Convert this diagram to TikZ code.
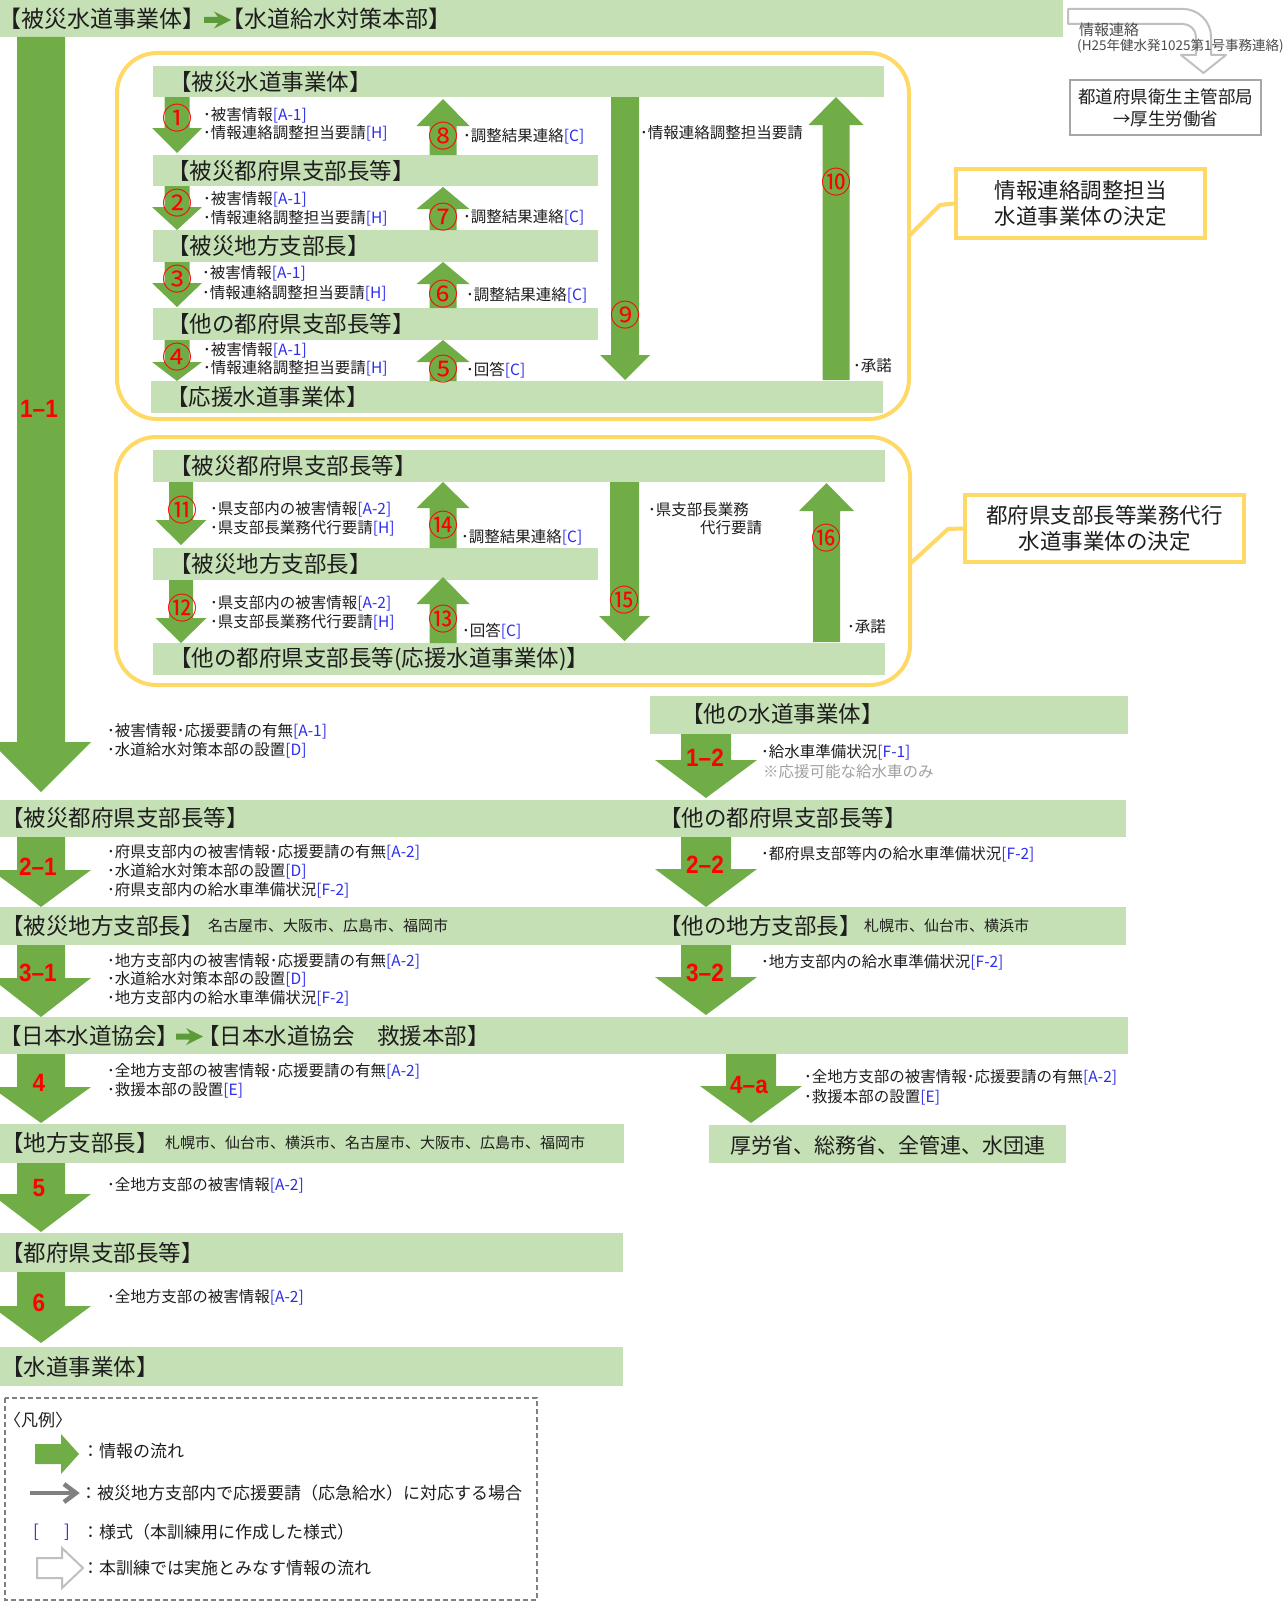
\documentclass[tikz,border=0pt]{standalone}
\usepackage{fontspec}
\usepackage{graphicx}
\setmainfont{Noto Sans CJK JP}
\newfontfamily\libsans{Liberation Sans}
\definecolor{lgreen}{RGB}{197,224,180}
\definecolor{agreen}{RGB}{112,173,71}
\definecolor{hgreen}{RGB}{92,156,56}
\definecolor{ylw}{RGB}{255,217,102}
\definecolor{fblue}{RGB}{45,45,235}
\definecolor{txt}{RGB}{30,30,30}
\definecolor{ltgray}{RGB}{166,166,166}
\definecolor{hollow}{RGB}{191,191,191}
\definecolor{midgray}{RGB}{128,128,128}
\definecolor{notegray}{RGB}{160,160,160}
\newcommand\fs[1]{\fontsize{#1}{#1}\selectfont}
\newcommand\bl[1]{\textcolor{fblue}{#1}}
\newcommand\redlbl[1]{\scalebox{0.9}[1]{#1}}
\newcommand\blkarrow[6]{\fill[agreen] ({#1-#5},#2) -- ({#1+#5},#2) -- ({#1+#5},#3) -- ({#1+#6},#3) -- (#1,#4) -- ({#1-#6},#3) -- ({#1-#5},#3) -- cycle;}
\newcommand\hdarr[2]{\fill[hgreen] (#1,{#2-3}) -- ({#1+14},{#2-3}) -- ({#1+10},{#2-8.5}) -- ({#1+27},#2) -- ({#1+10},{#2+8.5}) -- ({#1+14},{#2+3}) -- (#1,{#2+3}) -- cycle;}
\tikzset{
  gbar/.style={fill=lgreen},
  ttl/.style={anchor=west, inner sep=0pt, text=txt, font=\fs{22.5}},
  lbl/.style={anchor=west, inner sep=0pt, text=txt, font=\fs{15.5}},
  city/.style={anchor=west, inner sep=0pt, text=txt, font=\fs{15}},
  leg/.style={anchor=west, inner sep=0pt, text=txt, font=\fs{17}},
  cnum/.style={inner sep=0pt, text=red, font=\fs{30}},
  bnum/.style={inner sep=0pt, text=red, font=\libsans\bfseries\fs{25}},
  ybox/.style={draw=ylw, line width=4pt, rounded corners=40pt},
  callout/.style={draw=ylw, line width=4pt, fill=white, align=center, text=txt, inner sep=0pt, font=\fontsize{21.5}{26.5}\selectfont},
  yline/.style={draw=ylw, line width=4pt, line join=round},
}
\begin{document}
\begin{tikzpicture}[x=1pt,y=-1pt]
\useasboundingbox (0,0) rectangle (1287,1603);

% ---------- header ----------
\fill[gbar] (0,0) rectangle (1063,37);
\node[ttl, font=\fs{23}] (hdr1) at (-2,18.5) {【被災水道事業体】};
\hdarr{204}{20}
\node[ttl, font=\fs{23}] (hdr2) at (221.5,18.5) {【水道給水対策本部】};

% top right hollow arrow and box
\draw[draw=hollow, line width=2pt, fill=white, line join=round]
  (1068,9) -- (1183,9) .. controls (1198.5,9) and (1211,21.5) .. (1211,37) -- (1211,55)
  -- (1226,55) -- (1203.5,73) -- (1181,55) -- (1196,55) -- (1196,37)
  .. controls (1196,29.8) and (1190.2,24) .. (1183,24) -- (1068,24) -- cycle;
\node[anchor=west, inner sep=0pt, text=txt!80, font=\fs{15}] (jr) at (1079,30) {情報連絡};
\node[anchor=west, inner sep=0pt, text=txt!80, font=\fs{13.5}] (jr2) at (1077,46) {(H25年健水発1025第1号事務連絡)};
\node[draw=ltgray, line width=2pt, minimum width=191pt, minimum height=55pt, inner sep=0pt, align=center, text=txt, font=\fontsize{17.5}{22}\selectfont] (mhlw) at (1165.5,107.5) {都道府県衛生主管部局\\→厚生労働省};

% ---------- left main arrow 1-1 ----------
\blkarrow{41}{37}{742}{792}{24}{50}
\node[bnum] (l11) at (39,409) {\redlbl{1–1}};

% ---------- box 1 ----------
\draw[ybox] (117,53) rectangle (909,419);
\fill[gbar] (153,66) rectangle (884,97);
\fill[gbar] (153,155) rectangle (598,186);
\fill[gbar] (153,230) rectangle (598,262);
\fill[gbar] (153,308) rectangle (598,340);
\fill[gbar] (151,381) rectangle (883,413);
\node[ttl] (b1a) at (169,81.5) {【被災水道事業体】};
\node[ttl] (b1b) at (167,170.5) {【被災都府県支部長等】};
\node[ttl] (b1c) at (167,246) {【被災地方支部長】};
\node[ttl] (b1d) at (167,324) {【他の都府県支部長等】};
\node[ttl] (b1e) at (166,397) {【応援水道事業体】};

\blkarrow{177}{97}{128}{153}{12.5}{25}
\blkarrow{177}{186}{207}{230}{12.5}{25}
\blkarrow{177}{262}{283}{307}{12.5}{25}
\blkarrow{177}{340}{362}{381}{12.5}{25}
\blkarrow{443}{155}{126}{99}{13.5}{26.5}
\blkarrow{443}{230}{209}{187}{13.5}{26.5}
\blkarrow{443}{308}{284}{262}{13.5}{26.5}
\blkarrow{443}{381}{362}{340}{13.5}{26.5}
\blkarrow{625}{97}{355}{380}{14}{25}
\blkarrow{836}{380}{125}{97}{13.5}{27.5}

\node[cnum] (c1) at (177,118) {①};
\node[cnum] (c2) at (177,203) {②};
\node[cnum] (c3) at (177,279) {③};
\node[cnum] (c4) at (177,357) {④};
\node[cnum] (c8) at (443,136) {⑧};
\node[cnum] (c7) at (443,217) {⑦};
\node[cnum] (c6) at (443,294) {⑥};
\node[cnum] (c5) at (443,369) {⑤};
\node[cnum] (c9) at (625,315) {⑨};
\node[cnum] (c10) at (836,182) {⑩};

\node[lbl] (a1a) at (203,115) {･被害情報\bl{[A-1]}};
\node[lbl] (a1b) at (203,133) {･情報連絡調整担当要請\bl{[H]}};
\node[lbl] (a2a) at (203,199) {･被害情報\bl{[A-1]}};
\node[lbl] (a2b) at (203,218) {･情報連絡調整担当要請\bl{[H]}};
\node[lbl] (a3a) at (202,273) {･被害情報\bl{[A-1]}};
\node[lbl] (a3b) at (202,293) {･情報連絡調整担当要請\bl{[H]}};
\node[lbl] (a4a) at (203,350) {･被害情報\bl{[A-1]}};
\node[lbl] (a4b) at (203,368) {･情報連絡調整担当要請\bl{[H]}};
\node[lbl] (a8) at (463,136) {･調整結果連絡\bl{[C]}};
\node[lbl] (a7) at (463,217) {･調整結果連絡\bl{[C]}};
\node[lbl] (a6) at (466,295) {･調整結果連絡\bl{[C]}};
\node[lbl] (a5) at (466,370) {･回答\bl{[C]}};
\node[lbl] (a9) at (640,133) {･情報連絡調整担当要請};
\node[lbl] (a10) at (853,366) {･承諾};

% callout 1
\node[callout, minimum width=249pt, minimum height=69pt] (co1) at (1080.5,203.5) {情報連絡調整担当\\水道事業体の決定};
\coordinate (k1) at (940,205);
\coordinate (e1) at (909,236);
\draw[yline] (co1.west) -- (k1) -- (e1);

% ---------- box 2 ----------
\draw[ybox] (116,437) rectangle (910,685);
\fill[gbar] (153,450) rectangle (885,482);
\fill[gbar] (153,548) rectangle (598,580);
\fill[gbar] (153,643) rectangle (885,675);
\node[ttl] (b2a) at (169,466) {【被災都府県支部長等】};
\node[ttl] (b2b) at (169,564) {【被災地方支部長】};
\node[ttl] (b2c) at (169,659) {【他の都府県支部長等(応援水道事業体)】};

\blkarrow{181}{482}{520}{545}{12}{25.5}
\blkarrow{181}{580}{618}{643}{12}{25.5}
\blkarrow{443}{548}{508}{482}{13.5}{26.5}
\blkarrow{443}{643}{604}{577}{13.5}{26.5}
\blkarrow{624.5}{482}{616}{641}{14.5}{25.5}
\blkarrow{826.5}{642}{511}{483}{13.5}{27.5}

\node[cnum] (c11) at (182,510) {⑪};
\node[cnum] (c12) at (182,608) {⑫};
\node[cnum] (c14) at (443,525) {⑭};
\node[cnum] (c13) at (443,619) {⑬};
\node[cnum] (c15) at (624.5,600) {⑮};
\node[cnum] (c16) at (826.5,538) {⑯};

\node[lbl] (a11a) at (210,509) {･県支部内の被害情報\bl{[A-2]}};
\node[lbl] (a11b) at (210,528) {･県支部長業務代行要請\bl{[H]}};
\node[lbl] (a12a) at (210,603) {･県支部内の被害情報\bl{[A-2]}};
\node[lbl] (a12b) at (210,622) {･県支部長業務代行要請\bl{[H]}};
\node[lbl] (a14) at (461,537) {･調整結果連絡\bl{[C]}};
\node[lbl] (a13) at (462,631) {･回答\bl{[C]}};
\node[lbl] (a15a) at (648,510) {･県支部長業務};
\node[lbl] (a15b) at (700,528) {代行要請};
\node[lbl] (a16) at (847,627) {･承諾};

% callout 2
\node[callout, minimum width=279pt, minimum height=67pt] (co2) at (1104.5,528.5) {都府県支部長等業務代行\\水道事業体の決定};
\coordinate (k2) at (948,529);
\coordinate (e2) at (911,563);
\draw[yline] (co2.west) -- (k2) -- (e2);

% ---------- lower section ----------
\fill[gbar] (650,696) rectangle (1128,734);
\node[ttl] (o0) at (681,714) {【他の水道事業体】};
\node[lbl] (a1-1a) at (107,731) {･被害情報･応援要請の有無\bl{[A-1]}};
\node[lbl] (a1-1b) at (107,750) {･水道給水対策本部の設置\bl{[D]}};

\blkarrow{706}{734}{760}{798}{25}{51}
\node[bnum] (l12) at (705,758) {\redlbl{1–2}};
\node[lbl] (a1-2a) at (761,752) {･給水車準備状況\bl{[F-1]}};
\node[lbl, text=notegray] (a1-2b) at (763,772) {※応援可能な給水車のみ};

\fill[gbar] (0,800) rectangle (1126,837);
\node[ttl] (r1l) at (1,818) {【被災都府県支部長等】};
\node[ttl] (r1r) at (659,818) {【他の都府県支部長等】};

\blkarrow{41}{837}{870}{907}{24}{50}
\node[bnum] (l21) at (38,867) {\redlbl{2–1}};
\node[lbl] (a2-1a) at (107,852) {･府県支部内の被害情報･応援要請の有無\bl{[A-2]}};
\node[lbl] (a2-1b) at (107,871) {･水道給水対策本部の設置\bl{[D]}};
\node[lbl] (a2-1c) at (107,890) {･府県支部内の給水車準備状況\bl{[F-2]}};
\blkarrow{706}{837}{869}{907}{25}{51}
\node[bnum] (l22) at (705,865) {\redlbl{2–2}};
\node[lbl] (a2-2) at (761,854) {･都府県支部等内の給水車準備状況\bl{[F-2]}};

\fill[gbar] (0,907) rectangle (1126,945);
\node[ttl] (r2l) at (1,926) {【被災地方支部長】};
\node[city] (r2lc) at (208,926) {名古屋市、大阪市、広島市、福岡市};
\node[ttl] (r2r) at (659,926) {【他の地方支部長】};
\node[city] (r2rc) at (864,926) {札幌市、仙台市、横浜市};

\blkarrow{41}{945}{978}{1017}{24}{50}
\node[bnum] (l31) at (38,973) {\redlbl{3–1}};
\node[lbl] (a3-1a) at (107,961) {･地方支部内の被害情報･応援要請の有無\bl{[A-2]}};
\node[lbl] (a3-1b) at (107,979) {･水道給水対策本部の設置\bl{[D]}};
\node[lbl] (a3-1c) at (107,998) {･地方支部内の給水車準備状況\bl{[F-2]}};
\blkarrow{706}{945}{977}{1015}{25}{51}
\node[bnum] (l32) at (705,973) {\redlbl{3–2}};
\node[lbl] (a3-2) at (761,962) {･地方支部内の給水車準備状況\bl{[F-2]}};

\fill[gbar] (0,1017) rectangle (1128,1054);
\node[ttl] (r3a) at (-1,1035.5) {【日本水道協会】};
\hdarr{176}{1036.5}
\node[ttl] (r3b) at (197,1035.5) {【日本水道協会　救援本部】};

\blkarrow{41}{1054}{1087}{1123}{24}{50}
\node[bnum] (l4) at (39,1083) {\redlbl{4}};
\node[lbl] (a4-a) at (107,1071) {･全地方支部の被害情報･応援要請の有無\bl{[A-2]}};
\node[lbl] (a4-b) at (107,1090) {･救援本部の設置\bl{[E]}};
\blkarrow{751}{1054}{1086}{1123}{25}{51}
\node[bnum] (l4a) at (749,1085) {\redlbl{4–a}};
\node[lbl] (a4a-a) at (804,1077) {･全地方支部の被害情報･応援要請の有無\bl{[A-2]}};
\node[lbl] (a4a-b) at (804,1097) {･救援本部の設置\bl{[E]}};

\fill[gbar] (0,1124) rectangle (624,1163);
\node[ttl] (r4) at (1,1143) {【地方支部長】};
\node[city] (r4c) at (165,1143) {札幌市、仙台市、横浜市、名古屋市、大阪市、広島市、福岡市};
\fill[gbar] (709,1125) rectangle (1066,1163);
\node[inner sep=0pt, text=txt, font=\fs{21}] (mins) at (887.5,1145) {厚労省、総務省、全管連、水団連};

\blkarrow{41}{1163}{1194}{1232}{24}{50}
\node[bnum] (l5) at (39,1188) {\redlbl{5}};
\node[lbl] (a5-a) at (107,1185) {･全地方支部の被害情報\bl{[A-2]}};

\fill[gbar] (0,1233) rectangle (623,1272);
\node[ttl] (r5) at (1,1253) {【都府県支部長等】};

\blkarrow{41}{1272}{1306}{1343}{24}{50}
\node[bnum] (l6) at (39,1303) {\redlbl{6}};
\node[lbl] (a6-a) at (107,1297) {･全地方支部の被害情報\bl{[A-2]}};

\fill[gbar] (0,1347) rectangle (623,1386);
\node[ttl] (r6) at (1,1367) {【水道事業体】};

% ---------- legend ----------
\draw[midgray, line width=1.5pt, dash pattern=on 5pt off 3pt] (5,1398) rectangle (537,1600);
\node[leg] (lg0) at (4,1420) {〈凡例〉};
\fill[agreen] (35,1444) -- (61,1444) -- (61,1434) -- (79,1454) -- (61,1474) -- (61,1464) -- (35,1464) -- cycle;
\node[leg] (lg1) at (82,1451) {：情報の流れ};
\draw[midgray, line width=4.5pt] (30,1493) -- (74,1493);
\draw[midgray, line width=4.5pt, line join=miter] (64,1484) -- (76,1493) -- (64,1502);
\node[leg] (lg2) at (80,1493) {：被災地方支部内で応援要請（応急給水）に対応する場合};
\node[leg, text=fblue] (lgb1) at (33,1532) {[};
\node[leg, text=fblue] (lgb2) at (64,1532) {]};
\node[leg] (lg3) at (82,1532) {：様式（本訓練用に作成した様式）};
\draw[hollow, line width=2pt, fill=white] (37,1558) -- (62,1558) -- (62,1548) -- (83,1568) -- (62,1588) -- (62,1578) -- (37,1578) -- cycle;
\node[leg] (lg4) at (82,1568) {：本訓練では実施とみなす情報の流れ};
\end{tikzpicture}
\end{document}
